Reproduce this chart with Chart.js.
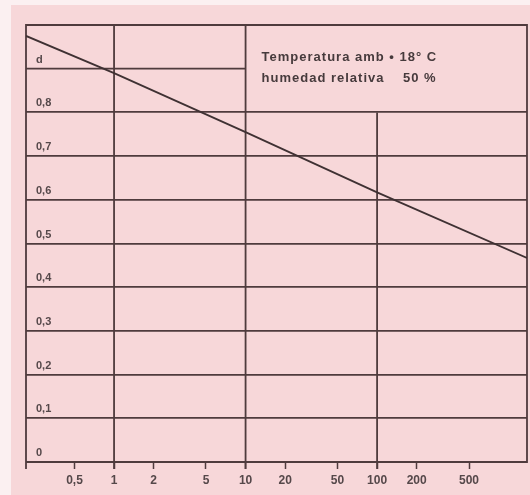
<!DOCTYPE html>
<html>
<head>
<meta charset="utf-8">
<script src="https://cdn.jsdelivr.net/npm/chart.js@4.4.1/dist/chart.umd.min.js"></script>
<style>
  html, body { margin: 0; padding: 0; background: #fbf0f1; }
  #wrap { width: 530px; height: 495px; }
</style>
</head>
<body>
<div id="wrap"><canvas id="curva"></canvas></div>
<script>
// tiempo (escala logaritmica) y valores de d
const tiempo = [0.214, 1, 10, 100, 1380];
const dValores = [0.975, 0.89, 0.755, 0.617, 0.467];

const xTicks = [0.5, 1, 2, 5, 10, 20, 50, 100, 200, 500];
const xLabels = ['0,5', '1', '2', '5', '10', '20', '50', '100', '200', '500'];
const yTicks = [0, 0.1, 0.2, 0.3, 0.4, 0.5, 0.6, 0.7, 0.8, 0.9, 1];
const yLabels = ['0', '0,1', '0,2', '0,3', '0,4', '0,5', '0,6', '0,7', '0,8', 'd', ''];

const notas = ['Temperatura amb • 18° C', 'humedad relativa    50 %'];

const ink = '#4f3b3d';
const fondo = '#f7d7d9';
const labelFont = { family: '"Liberation Sans", Arial, sans-serif', size: 11, weight: 'bold' };
const isAt = (a, b) => Math.abs(a - b) < 1e-6;

// fondo rosa y recuadro con las lineas parciales
const marco = {
  id: 'marco',
  beforeDraw(chart) {
    const c = chart.ctx;
    c.save();
    c.fillStyle = '#fbf0f1';
    c.fillRect(0, 0, chart.width, chart.height);
    c.fillStyle = fondo;
    c.fillRect(11, 5, chart.width - 11, chart.height - 5);
    c.restore();
  },
  beforeDatasetsDraw(chart) {
    const c = chart.ctx;
    const a = chart.chartArea;
    const x = chart.scales.x, y = chart.scales.y;
    c.save();
    c.strokeStyle = ink;
    c.lineWidth = 1.8;
    c.beginPath();
    // verticales en 1 y 10
    [1, 10].forEach(v => {
      const px = x.getPixelForValue(v);
      c.moveTo(px, a.top);
      c.lineTo(px, a.bottom + 7);
    });
    // vertical en 100 solo por debajo de 0,8
    const p100 = x.getPixelForValue(100);
    c.moveTo(p100, y.getPixelForValue(0.8));
    c.lineTo(p100, a.bottom + 7);
    // horizontal en 0,9 hasta 10
    const y9 = y.getPixelForValue(0.9);
    c.moveTo(a.left, y9);
    c.lineTo(x.getPixelForValue(10), y9);
    // recuadro
    c.moveTo(a.left, a.bottom + 7);
    c.lineTo(a.left, a.top);
    c.lineTo(a.right, a.top);
    c.lineTo(a.right, a.bottom);
    c.lineTo(a.left, a.bottom);
    c.stroke();

    c.fillStyle = '#463a3c';
    c.font = 'bold 13px "Liberation Sans", Arial, sans-serif';
    c.letterSpacing = '1px';
    c.textBaseline = 'middle';
    const tx = x.getPixelForValue(10) + 16;
    c.fillText(notas[0], tx, a.top + 32);
    c.fillText(notas[1], tx, a.top + 53);
    c.restore();
  }
};

new Chart(document.getElementById('curva'), {
  type: 'line',
  data: {
    datasets: [{
      data: tiempo.map((t, i) => ({ x: t, y: dValores[i] })),
      borderColor: '#3f3133',
      borderWidth: 1.8,
      pointRadius: 0,
      tension: 0
    }]
  },
  options: {
    responsive: true,
    maintainAspectRatio: false,
    animation: false,
    layout: { padding: { left: 26, right: 3, top: 25, bottom: 0 } },
    plugins: { legend: { display: false }, tooltip: { enabled: false } },
    scales: {
      x: {
        type: 'logarithmic',
        min: 0.214,
        max: 1380,
        afterBuildTicks: s => { s.ticks = xTicks.map(v => ({ value: v })); },
        afterFit: s => { s.height = 33; },
        grid: {
          drawOnChartArea: false,
          drawTicks: true,
          tickLength: 7,
          tickColor: ink,
          tickWidth: 1.5
        },
        border: { display: false },
        ticks: {
          autoSkip: false,
          maxRotation: 0,
          padding: 4,
          color: '#55484a',
          font: { ...labelFont, size: 12 },
          callback: (v, i) => xLabels[i]
        }
      },
      y: {
        min: 0,
        max: 1,
        afterBuildTicks: s => { s.ticks = yTicks.map(v => ({ value: v })); },
        afterFit: s => { s.width = 0; },
        grid: {
          drawTicks: false,
          lineWidth: 1.8,
          color: c => (isAt(c.tick.value, 0.9) ? 'rgba(0,0,0,0)' : ink)
        },
        border: { display: false },
        ticks: {
          mirror: true,
          padding: 10,
          labelOffset: -9,
          color: '#55484a',
          font: labelFont,
          callback: (v, i) => yLabels[i]
        }
      }
    }
  },
  plugins: [marco]
});
</script>
</body>
</html>
